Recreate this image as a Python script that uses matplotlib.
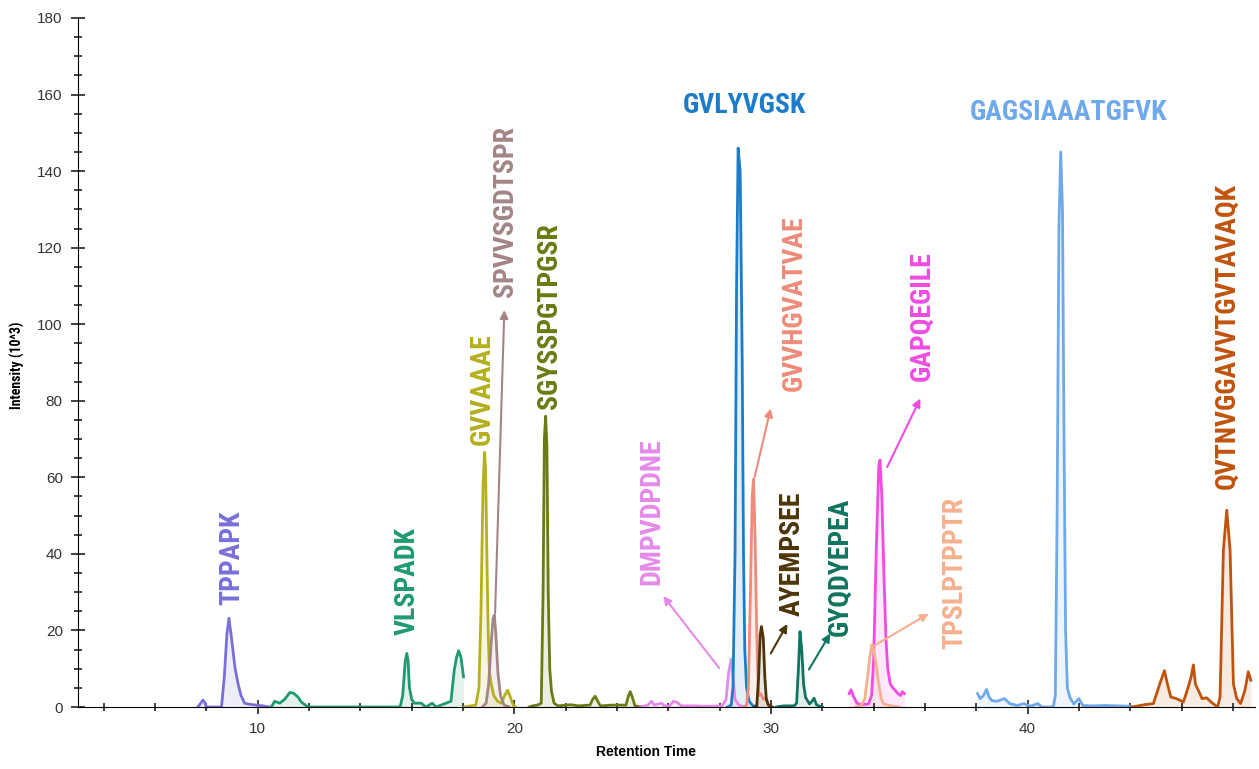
import matplotlib
matplotlib.use('Agg')
import matplotlib.pyplot as plt
from matplotlib.ticker import MultipleLocator
from matplotlib import font_manager

# Peptide traces (retention time, intensity 10^3)
tppapk_x = [7.67, 7.8, 7.87, 7.95, 8.0, 8.59, 8.7, 8.8, 8.88, 8.98, 9.11, 9.23, 9.35, 9.49, 9.7, 9.95, 10.2, 10.47]
tppapk_y = [0, 1.2, 1.8, 1.0, 0, 0, 8, 19, 23.2, 18, 10.5, 6.2, 3, 1, 0.7, 0.5, 0.3, 0]

vlspadk_x = [10.53, 10.66, 10.86, 11.05, 11.25, 11.4, 11.57, 11.7, 11.96, 15.55, 15.65, 15.75, 15.81, 15.86, 15.91,
             16.0, 16.1, 16.37, 16.55, 16.8, 16.95, 17.53, 17.66, 17.75, 17.83, 17.92, 18.02]
vlspadk_y = [0, 1.5, 1.0, 2.0, 3.8, 3.6, 2.6, 1.3, 0, 0, 3, 12, 14.0, 12, 5.2, 2, 1, 1, 0, 1, 0, 1.5, 9.7, 13, 14.7, 13.0, 7.9]

gvvaaae_x = [18.05, 18.3, 18.5, 18.62, 18.7, 18.78, 18.84, 18.88, 18.93, 18.98, 19.03, 19.1, 19.2, 19.35, 19.5, 19.62,
             19.74, 19.85, 19.95, 20.05]
gvvaaae_y = [0, 0.3, 0.5, 5, 25, 58, 66.5, 62, 40, 20, 9, 6, 3, 1.5, 1, 3, 4.4, 2.5, 0.5, 0]

spvvsgdtspr_x = [18.75, 18.9, 19.0, 19.1, 19.17, 19.22, 19.28, 19.36, 19.46, 19.6, 19.8]
spvvsgdtspr_y = [0, 1, 6, 17, 23, 24, 19, 9, 3, 0.5, 0]

sgyss_x = [20.58, 20.7, 20.9, 21.05, 21.12, 21.17, 21.22, 21.27, 21.32, 21.38, 21.45, 21.55, 21.7, 22.2, 22.5, 22.95,
           23.05, 23.15, 23.25, 23.35, 23.8, 24.35, 24.45, 24.52, 24.6, 24.7, 25.0]
sgyss_y = [0, 0.3, 0.5, 1, 30, 70, 76, 68, 30, 10, 4, 1, 0.3, 0.6, 0.3, 0.5, 2, 2.8, 1.5, 0.3, 0.5, 0.5, 3, 4, 2.5, 0.3, 0]

dmpvdpdne_x = [24.9, 25.2, 25.35, 25.45, 25.6, 25.75, 25.85, 26.05, 26.2, 26.35, 26.5, 27.0, 27.5, 28.1, 28.25, 28.35,
               28.45, 28.52, 28.6, 28.75, 29.0]
dmpvdpdne_y = [0, 0.5, 1.5, 0.5, 0.8, 1.0, 0.3, 0.3, 1.5, 1.2, 0.3, 0.3, 0.2, 0.3, 2, 9, 12.5, 8, 2, 0.5, 0]

gvlyvgsk_x = [28.3, 28.45, 28.52, 28.6, 28.66, 28.72, 28.8, 28.88, 28.93, 28.98, 29.05, 29.15, 29.3, 29.45]
gvlyvgsk_y = [0, 0.5, 5, 40, 110, 146, 140, 90, 40, 15, 5, 1.5, 0.3, 0]

gvvhg_x = [28.95, 29.05, 29.12, 29.2, 29.27, 29.32, 29.38, 29.43, 29.47, 29.52, 29.6, 29.7, 29.8, 29.9, 30.0]
gvvhg_y = [0, 0.5, 5, 30, 55, 59.5, 45, 25, 12, 3, 3.5, 2, 2.5, 0.5, 0]

ayempsee_x = [29.35, 29.45, 29.52, 29.58, 29.63, 29.7, 29.76, 29.82, 29.9, 30.05]
ayempsee_y = [0, 0.5, 8, 19, 21, 18, 8, 2, 0.5, 0]

gyqdyepea_x = [30.2, 30.5, 30.9, 31.0, 31.07, 31.13, 31.2, 31.27, 31.35, 31.5, 31.6, 31.68, 31.78, 32.0]
gyqdyepea_y = [0, 0.3, 0.3, 1, 10, 19.7, 15, 6, 2.5, 0.8, 1.5, 2.3, 0.5, 0]

gapqegile_x = [33.05, 33.12, 33.2, 33.35, 33.5, 33.8, 33.92, 34.0, 34.1, 34.2, 34.25, 34.32, 34.4, 34.48, 34.55, 34.65,
               34.75, 34.85, 34.95, 35.05, 35.12, 35.2]
gapqegile_y = [3.5, 4.5, 3, 1, 0.6, 0.8, 3, 12, 40, 63, 64.5, 55, 35, 18, 10, 6, 5, 4.3, 3.5, 3, 4, 3.5]

tpslptpptr_x = [33.3, 33.5, 33.65, 33.75, 33.85, 33.93, 34.0, 34.1, 34.2, 34.3, 34.4, 34.7, 35.0]
tpslptpptr_y = [0, 0.3, 2, 7, 13, 16.2, 15, 11, 6, 2, 0.8, 0.3, 0]

gagsi_x = [38.05, 38.15, 38.28, 38.4, 38.5, 38.6, 38.8, 39.1, 39.3, 39.6, 39.85, 40.1, 40.4, 40.55, 41.0, 41.08, 41.15,
           41.22, 41.29, 41.36, 41.42, 41.48, 41.55, 41.65, 41.8, 42.0, 42.15, 42.5, 43.0, 43.5, 44.0]
gagsi_y = [3.5, 2.2, 3.0, 4.6, 2.6, 1.7, 1.5, 2.2, 0.9, 0.4, 0.9, 0.2, 0.9, 0, 0, 3, 50, 125, 145, 130, 70, 20, 5, 2.5,
           0.8, 2.2, 0.4, 0.3, 0.4, 0.3, 0.2]

qvtnv_x = [44.05, 44.55, 44.9, 45.16, 45.33, 45.45, 45.58, 45.8, 46.07, 46.26, 46.37, 46.46, 46.54, 46.65, 46.8, 46.98,
           47.15, 47.4, 47.5, 47.63, 47.76, 47.89, 48.02, 48.15, 48.3, 48.47, 48.6, 48.7]
qvtnv_y = [0, 0.6, 0.9, 6.2, 9.5, 6, 2.6, 2.2, 1.3, 5.2, 7.8, 11, 6, 4.4, 2.2, 2.4, 1.3, 0, 2.6, 41, 51.4, 41, 6, 2.2,
           0.9, 4.4, 9.2, 7]

peptides = ['TPPAPK', 'VLSPADK', 'GVVAAAE', 'SPVVSGDTSPR', 'SGYSSPGTPGSR', 'DMPVDPDNE', 'GVLYVGSK',
            'GVVHGVATVAE', 'AYEMPSEE', 'GYQDYEPEA', 'GAPQEGILE', 'TPSLPTPPTR', 'GAGSIAAATGFVK',
            'QVTNVGGAVVTGVTAVAQK']
traces_x = [tppapk_x, vlspadk_x, gvvaaae_x, spvvsgdtspr_x, sgyss_x, dmpvdpdne_x, gvlyvgsk_x, gvvhg_x,
            ayempsee_x, gyqdyepea_x, gapqegile_x, tpslptpptr_x, gagsi_x, qvtnv_x]
traces_y = [tppapk_y, vlspadk_y, gvvaaae_y, spvvsgdtspr_y, sgyss_y, dmpvdpdne_y, gvlyvgsk_y, gvvhg_y,
            ayempsee_y, gyqdyepea_y, gapqegile_y, tpslptpptr_y, gagsi_y, qvtnv_y]
colors = ['#7a6fd9', '#1f9a6e', '#b5b01e', '#a48585', '#6b7a12', '#e58ae9', '#1c7cc8',
          '#ee8b7a', '#4d3409', '#10745e', '#f04be3', '#f5b08f', '#6eaaeb', '#c0540f']

# label centres and rotation
label_x = [8.99, 15.84, 18.74, 19.65, 21.36, 25.37, 28.95, 30.9, 30.83, 32.7, 35.88, 37.18, 41.6, 47.76]
label_y = [39, 33, 83, 129.5, 102, 51, 157.2, 105.4, 40, 36.5, 102, 35, 155.2, 97]
label_rot = [90, 90, 90, 90, 90, 90, 0, 90, 90, 90, 90, 90, 0, 90]

# arrows: (peptide index, start, tip)
arrow_idx = [3, 5, 7, 8, 9, 10, 11]
arrow_start = [(19.25, 24.5), (27.98, 10.2), (29.36, 60), (29.99, 14), (31.48, 9.8), (34.53, 62.7), (33.94, 15.7)]
arrow_tip = [(19.61, 103.7), (25.8, 29), (29.99, 78), (30.64, 21.7), (32.31, 19.2), (35.82, 80.6), (36.15, 24.4)]

# pick a narrow bold face if one is installed, else Open Sans
available = {f.name for f in font_manager.fontManager.ttflist}
narrow = [f for f in ['Roboto Condensed', 'Noto Sans Condensed', 'Liberation Sans Narrow'] if f in available]
label_font = narrow + [f for f in ['Open Sans', 'DejaVu Sans'] if f in available]
label_size = 20 if narrow else 18.5
plt.rcParams['font.family'] = ['Liberation Sans', 'DejaVu Sans']

fig = plt.figure(figsize=(12.59, 7.69), dpi=100)
ax = fig.add_axes([0.062, 0.0806, 0.935, 0.896])

for xs, ys, c in zip(traces_x, traces_y, colors):
    ax.fill_between(xs, ys, 0, color=c, alpha=0.12, lw=0)
    ax.plot(xs, ys, color=c, lw=2)

for name, lx, ly, rot, c in zip(peptides, label_x, label_y, label_rot, colors):
    ax.text(lx, ly, name, rotation=rot, ha='center', va='center', color=c,
            fontsize=label_size, fontweight='bold', family=label_font)

for i, s, t in zip(arrow_idx, arrow_start, arrow_tip):
    ax.annotate('', xy=t, xytext=s,
                arrowprops=dict(arrowstyle='-|>', color=colors[i], lw=1.5, mutation_scale=12,
                                shrinkA=0, shrinkB=0))

ax.set_xlim(3.0, 48.87)
ax.set_ylim(0, 180)
ax.spines['top'].set_visible(False)
ax.spines['right'].set_visible(False)
ax.xaxis.set_major_locator(MultipleLocator(10))
ax.xaxis.set_minor_locator(MultipleLocator(2))
ax.yaxis.set_major_locator(MultipleLocator(20))
ax.yaxis.set_minor_locator(MultipleLocator(5))
ax.tick_params(which='major', direction='inout', length=10, width=1.2, labelsize=11, colors='#222222',
               labelcolor='#333333')
ax.tick_params(which='minor', direction='inout', length=6, width=1.2, colors='#222222')
ax.tick_params(axis='y', which='major', pad=6)
ax.tick_params(axis='x', which='major', pad=6)

fig.text(0.513, 0.022, 'Retention Time', ha='center', va='center', fontsize=10, fontweight='bold')
fig.text(0.014, 0.525, 'Intensity (10^3)', ha='center', va='center', rotation=90, fontsize=10,
         fontweight='bold', family=label_font)

fig.savefig('out.png', dpi=100)
